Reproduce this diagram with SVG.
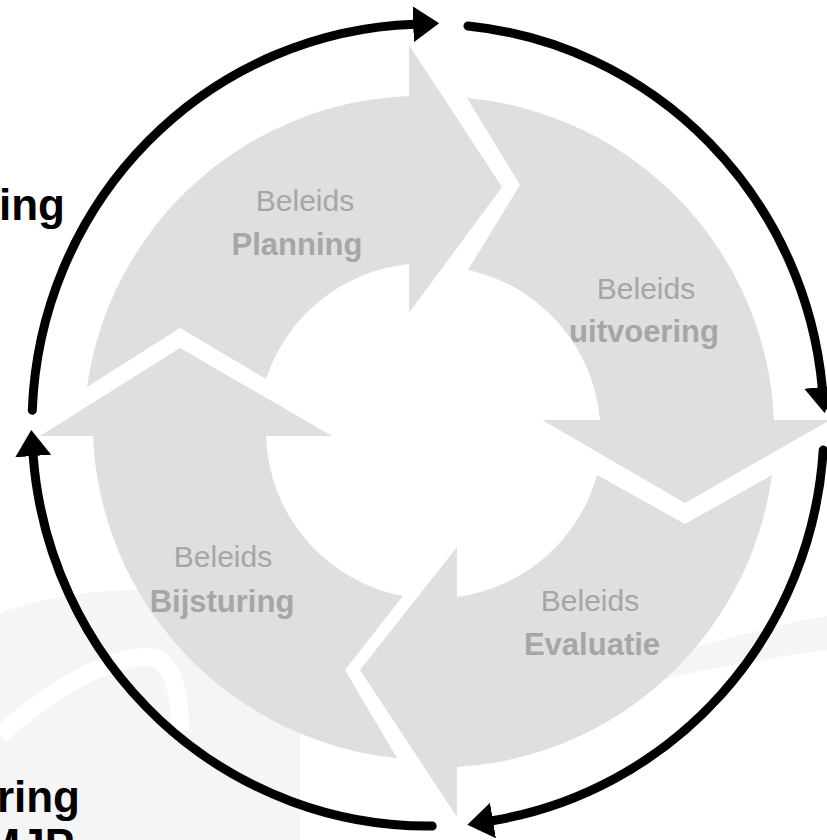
<svg xmlns="http://www.w3.org/2000/svg" width="827" height="840" viewBox="0 0 827 840">
  <style>
    .seg { fill: #dfdfdf; }
    .lbl { font-family: "Liberation Sans", Arial, sans-serif; font-size: 30px; fill: #a6a6a6; text-anchor: middle; }
    .b { font-weight: bold; font-size: 31px; }
    .side { font-family: "Liberation Sans", Arial, sans-serif; font-size: 44px; font-weight: bold; fill: #000; text-anchor: end; }
    .arc { fill: none; stroke: #000; stroke-width: 9; stroke-linecap: round; }
    .faint { fill: #f5f5f5; }
  </style>
  <defs>
    <marker id="head" markerUnits="userSpaceOnUse" viewBox="0 -18 26 36" refX="1" refY="0" markerWidth="26" markerHeight="36" orient="auto">
      <path d="M0,-18 L26,0 L0,18 Z" fill="#000"/>
    </marker>
  </defs>
  <rect x="0" y="0" width="827" height="840" fill="#fff"/>

  <g id="background">
    <path class="faint" d="M0,613 C35,600 75,592 130,590 L300,588 L300,840 L0,840 Z"/>
    <path d="M0,735 C50,690 110,655 150,657 C172,660 180,690 180,730" fill="none" stroke="#fff" stroke-width="18"/>
    <path class="faint" d="M650,660 C720,640 780,624 827,616 L827,650 C780,656 720,666 660,680 Z"/>
  </g>

  <g id="planning">
    <path class="seg" d="M87,387 A338,338 0 0 1 409,96 L409,45 L502,187 L409,313 L409,264 A168,168 0 0 0 266,379 L180,328 Z"/>
    <text class="lbl" x="305" y="211">Beleids</text>
    <text class="lbl b" x="297" y="255">Planning</text>
  </g>
  <g id="uitvoering">
    <path class="seg" d="M467,98 A338,338 0 0 1 774,420 L830,420 L685,503 L542,420 L600,420 A168,168 0 0 0 468,270 L520,185 Z"/>
    <text class="lbl" x="646" y="299">Beleids</text>
    <text class="lbl b" x="644" y="342">uitvoering</text>
  </g>
  <g id="evaluatie">
    <path class="seg" d="M772,475 A338,338 0 0 1 457,767 L457,817 L360,670 L457,547 L457,597 A168,168 0 0 0 597,475 L685,524 Z"/>
    <text class="lbl" x="590" y="611">Beleids</text>
    <text class="lbl b" x="592" y="655">Evaluatie</text>
  </g>
  <g id="bijsturing">
    <path class="seg" d="M397,758 A338,338 0 0 1 93,436 L40,436 L180,348 L332,436 L266,436 A168,168 0 0 0 403,596 L345,670 Z"/>
    <text class="lbl" x="223" y="567">Beleids</text>
    <text class="lbl b" x="222" y="612">Bijsturing</text>
  </g>

  <g id="connectors">
    <path class="arc" marker-end="url(#head)" d="M32.3,410.3 A396,401 0 0 1 414.2,24.2"/>
    <path class="arc" marker-end="url(#head)" d="M468,26 A396,401 0 0 1 822.3,388"/>
    <path class="arc" marker-end="url(#head)" d="M823.2,450 A396,401 0 0 1 492,820.7"/>
    <path class="arc" marker-end="url(#head)" d="M432.2,826 A396,401 0 0 1 33.1,455"/>
  </g>

  <g id="side-labels">
    <text class="side" x="65" y="220">ing</text>
    <text class="side" x="80" y="812">ring</text>
    <text class="side" x="74" y="860">MJP</text>
  </g>
</svg>
